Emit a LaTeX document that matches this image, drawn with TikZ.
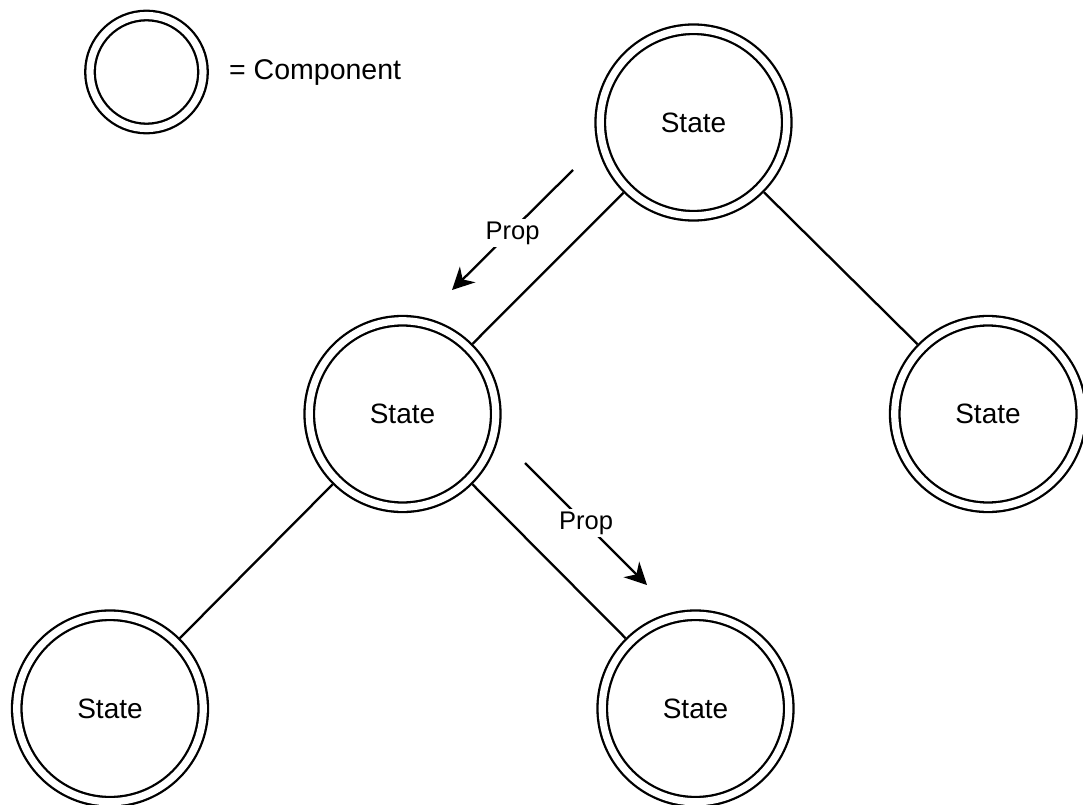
\documentclass[tikz,border=0pt]{standalone}
\usepackage{fontspec}
\setmainfont{Liberation Sans}
\usetikzlibrary{arrows.meta}

\begin{document}
\begin{tikzpicture}[x=1bp,y=-1bp,
        comp/.style={circle,draw,line width=2.3bp,double=white,
            double distance=7.2bp,inner sep=0pt,outer sep=5.9bp,
            minimum size=186.5bp,font=\fontsize{28bp}{32bp}\selectfont},
        link/.style={line width=2.3bp},
        prop/.style={line width=2.3bp,-{Stealth[length=22bp,width=22bp,inset=7bp]}},
        proplabel/.style={fill=white,inner sep=3bp,font=\fontsize{25.5bp}{30bp}\selectfont}]
            \useasboundingbox (0,0) rectangle (1083,805);
            \node[comp,minimum size=113bp] (key) at (146.5,72) {};
            \node[anchor=west,inner sep=0pt,font=\fontsize{28.5bp}{32bp}\selectfont]
                (keytext) at (229,73) {= Component};
            \node[comp] (top) at (693.5,122.5) {State};
            \node[comp] (mid) at (402.5,414) {State};
            \node[comp] (right) at (988,414) {State};
            \node[comp] (botleft) at (110,708.5) {State};
            \node[comp] (botmid) at (695.5,708.5) {State};
            \draw[link] (top) -- (mid);
            \draw[link] (top) -- (right);
            \draw[link] (mid) -- (botleft);
            \draw[link] (mid) -- (botmid);
            \coordinate (down1) at (573,170);
            \coordinate (down1end) at (452,290);
            \coordinate (down2) at (525,463);
            \coordinate (down2end) at (647,585);
            \draw[prop] (down1) -- node[proplabel,yshift=-3bp] {Prop} (down1end);
            \draw[prop] (down2) -- node[proplabel,yshift=1bp] {Prop} (down2end);
        \end{tikzpicture}
\end{document}
